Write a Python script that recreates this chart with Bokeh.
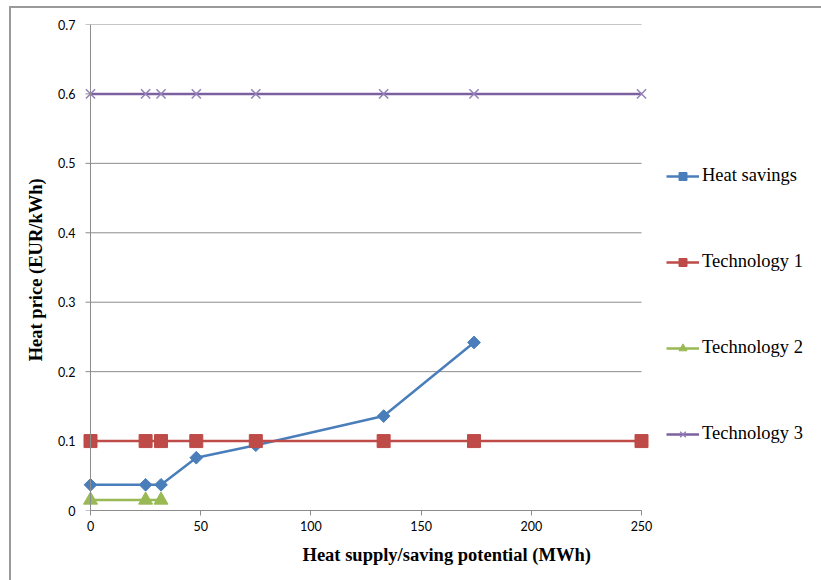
from bokeh.plotting import figure
from bokeh.models import (Range1d, FixedTicker, Span, Legend, LegendItem)
from bokeh.embed import file_html
from bokeh.resources import INLINE
import numpy as np

# ---- data ----
x_savings = [0, 25, 32, 48, 75, 133, 174]
y_savings = [0.037, 0.037, 0.037, 0.076, 0.094, 0.136, 0.242]

x_tech1 = [0, 25, 32, 48, 75, 133, 174, 250]
y_tech1 = [0.1, 0.1, 0.1, 0.1, 0.1, 0.1, 0.1, 0.1]

x_tech2 = [0, 25, 32]
y_tech2 = [0.015, 0.015, 0.015]

x_tech3 = [0, 25, 32, 48, 75, 133, 174, 250]
y_tech3 = [0.6, 0.6, 0.6, 0.6, 0.6, 0.6, 0.6, 0.6]

x_ticks = [0, 50, 100, 150, 200, 250]
y_ticks = [0, 0.1, 0.2, 0.3, 0.4, 0.5, 0.6, 0.7]
series_names = ["Heat savings", "Technology 1", "Technology 2", "Technology 3"]

x_label = "Heat  supply/saving potential (MWh)"
y_label = "Heat  price (EUR/kWh)"

# ---- layout constants (pixels) ----
X_MIN, X_MAX = 0, 250
W, H = 821, 580
AX_LEFT_PX, AX_RIGHT_PX = 90, 641       # where x=0 and x=250 sit
FRAME_LEFT, FRAME_RIGHT = 82, 815        # frame extends past the axis to hold legend
FRAME_TOP, FRAME_BOTTOM = 24, 510
BORDER_X, BORDER_Y = 9, 6                # outer chart-area border (left/top edges)
px_per_unit = (AX_RIGHT_PX - AX_LEFT_PX) / (X_MAX - X_MIN)
x_start = X_MIN - (AX_LEFT_PX - FRAME_LEFT) / px_per_unit
x_end = X_MAX + (FRAME_RIGHT - AX_RIGHT_PX) / px_per_unit
tick_units = 5 / px_per_unit

GRAY = "#8c8c8c"
SERIF = "Liberation Serif"
TICKFONT = "Lato"

p = figure(width=W, height=H, output_backend="svg", toolbar_location=None,
           x_range=Range1d(x_start, x_end), y_range=Range1d(0, 0.7),
           min_border_left=FRAME_LEFT, min_border_right=W - FRAME_RIGHT,
           min_border_top=FRAME_TOP, min_border_bottom=H - FRAME_BOTTOM)
p.border_fill_color = None
p.styles = {
    "background-color": "white",
    "background-image": "linear-gradient(#9a9a9a, #9a9a9a), linear-gradient(#9a9a9a, #9a9a9a)",
    "background-position": f"{BORDER_X}px {BORDER_Y}px, {BORDER_X}px {BORDER_Y}px",
    "background-size": f"2px {H - BORDER_Y}px, {W - BORDER_X}px 2px",
    "background-repeat": "no-repeat, no-repeat",
}
p.outline_line_color = None
p.background_fill_color = "white"
p.xgrid.visible = False
p.ygrid.visible = False

# horizontal gridlines drawn from the tick list, spanning the data axis
p.segment(x0=[X_MIN - tick_units] * len(y_ticks), x1=[X_MAX] * len(y_ticks),
          y0=y_ticks, y1=y_ticks, line_color=GRAY, line_width=1)
p.add_layout(Span(location=X_MIN, dimension="height", line_color=GRAY, line_width=1))

# axes
xa = p.xaxis[0]
xa.ticker = FixedTicker(ticks=x_ticks)
xa.bounds = (X_MIN, X_MAX)
xa.axis_line_color = GRAY
xa.major_tick_line_color = GRAY
xa.major_tick_out = 5
xa.major_tick_in = 0
xa.minor_tick_line_color = None
xa.major_label_standoff = 5
xa.major_label_text_font = TICKFONT
xa.major_label_text_font_size = "12.5px"
xa.major_label_text_color = "#000000"
xa.axis_label = x_label
xa.axis_label_text_font = SERIF
xa.axis_label_text_font_style = "bold"
xa.axis_label_text_font_size = "18.5px"
xa.axis_label_text_color = "#000000"
xa.axis_label_standoff = 11

ya = p.yaxis[0]
ya.ticker = FixedTicker(ticks=y_ticks)
ya.axis_line_color = None
ya.major_tick_line_color = None
ya.minor_tick_line_color = None
ya.major_tick_out = 0
ya.major_tick_in = 0
ya.major_label_standoff = 7
ya.major_label_overrides = {0: "0"}
ya.major_label_text_font = TICKFONT
ya.major_label_text_font_size = "12.5px"
ya.major_label_text_color = "#000000"
ya.axis_label = y_label
ya.axis_label_text_font = SERIF
ya.axis_label_text_font_style = "bold"
ya.axis_label_text_font_size = "18.5px"
ya.axis_label_text_color = "#000000"
ya.axis_label_standoff = 9

# series
l0 = p.line(x_savings, y_savings, line_color="#4A7EBB", line_width=2.5)
s0 = p.scatter(x_savings, y_savings, marker="square", angle=np.pi / 4, size=9,
               fill_color="#4A7EBB", line_color="#4A7EBB")
l1 = p.line(x_tech1, y_tech1, line_color="#BE4B48", line_width=2.5)
s1 = p.scatter(x_tech1, y_tech1, marker="square", size=13,
               fill_color="#BE4B48", line_color="#BE4B48")
l2 = p.line(x_tech2, y_tech2, line_color="#98B954", line_width=2.5)
s2 = p.scatter(x_tech2, y_tech2, marker="triangle", size=14,
               fill_color="#98B954", line_color="#98B954")
l3 = p.line(x_tech3, y_tech3, line_color="#7D60A0", line_width=2.5)
s3 = p.scatter(x_tech3, y_tech3, marker="x", size=13,
               line_color="#9480B8", line_width=1.5)

legend = Legend(items=[
    LegendItem(label=series_names[0], renderers=[l0, s0]),
    LegendItem(label=series_names[1], renderers=[l1, s1]),
    LegendItem(label=series_names[2], renderers=[l2, s2]),
    LegendItem(label=series_names[3], renderers=[l3, s3]),
], location=(666 - FRAME_LEFT, 66))
legend.padding = 0
legend.margin = 0
legend.spacing = 65
legend.glyph_width = 33
legend.glyph_height = 20
legend.label_height = 20
legend.label_standoff = 3
legend.label_text_font = SERIF
legend.label_text_font_size = "18.5px"
legend.label_text_color = "#000000"
legend.border_line_color = None
legend.background_fill_alpha = 0
p.add_layout(legend, "center")

open("out.html", "w").write(file_html(p, INLINE))
